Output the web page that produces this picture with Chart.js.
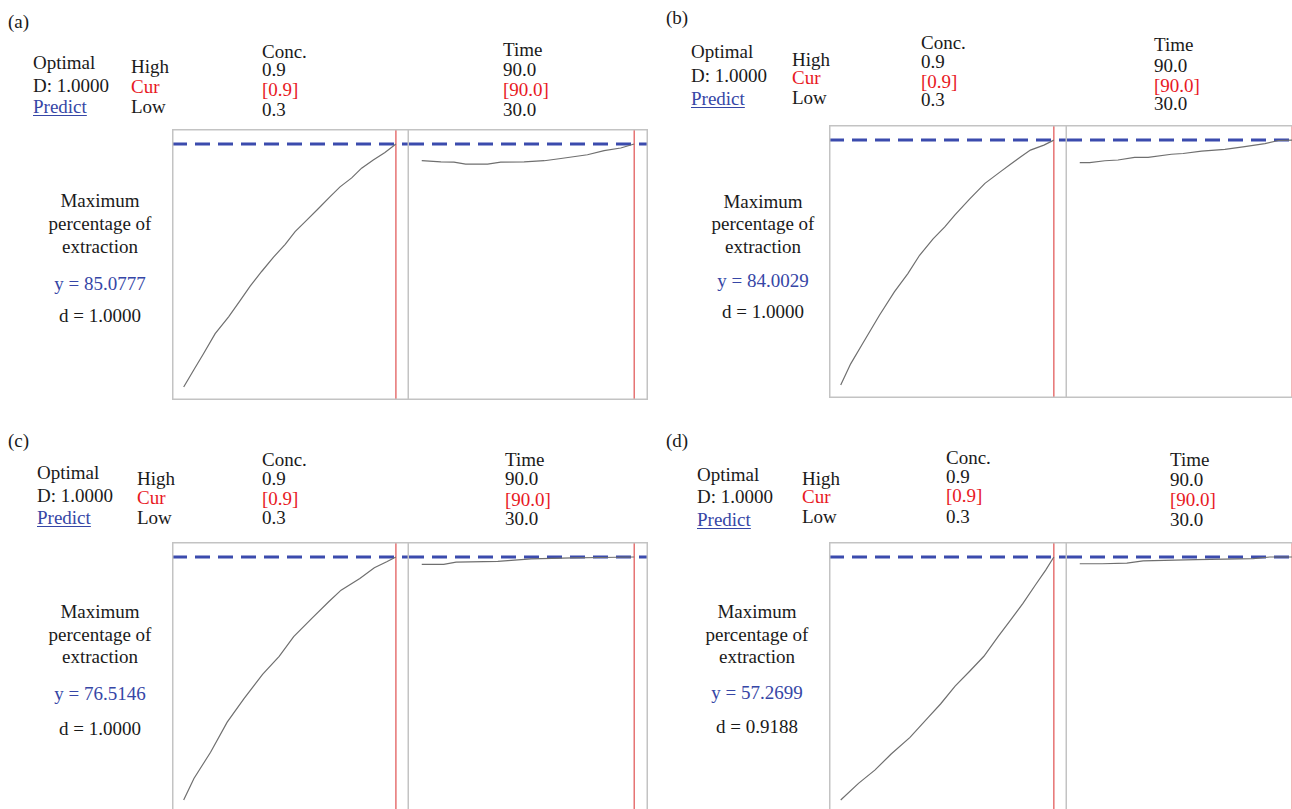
<!DOCTYPE html>
<html>
<head>
<meta charset="utf-8">
<script src="https://cdn.jsdelivr.net/npm/chart.js@4.4.1/dist/chart.umd.min.js"></script>
<style>
  html, body { margin: 0; padding: 0; background: #fff; }
  #root { position: relative; width: 1292px; height: 809px; overflow: hidden; background: #fff;
          font-family: "Liberation Serif", "DejaVu Serif", serif; color: #1a1a1a; }
  .t { position: absolute; font-size: 19px; line-height: 22px; white-space: nowrap; }
  .c { transform: translateX(-50%); text-align: center; }
  .red { color: #e8191f; }
  .blue { color: #3646a6; }
  .u { text-decoration: underline; text-underline-offset: 2px; }
  canvas { position: absolute; }
</style>
</head>
<body>
<div id="root"></div>
<script>
// ---------------- DATA ----------------
const panelLabels = ["(a)", "(b)", "(c)", "(d)"];
const factorNames = ["Conc.", "Time"];
const highValues = ["0.9", "90.0"];
const curValues = ["[0.9]", "[90.0]"];
const lowValues = ["0.3", "30.0"];
const curConc = 0.9;
const curTime = 90.0;
const predictedY = [85.0777, 84.0029, 76.5146, 57.2699];
const desirability = ["1.0000", "1.0000", "1.0000", "0.9188"];
const overallD = ["1.0000", "1.0000", "1.0000", "1.0000"];

// (a)
const concA = [0.300,0.328,0.356,0.389,0.427,0.460,0.488,0.521,0.554,0.587,0.615,0.648,0.681,0.714,0.742,0.775,0.803,0.836,0.869,0.900];
const yConcA = [20.0,24.5,28.9,34.3,38.8,43.2,47.0,51.0,54.8,58.2,61.6,64.7,67.8,71.0,73.6,76.0,78.6,80.8,82.8,85.08];
const timeA = [30.0,35.4,39.1,42.4,48.6,52.3,58.9,64.6,69.3,76.8,81.5,86.2,90.0];
const yTimeA = [80.6,80.3,80.2,79.7,79.7,80.2,80.3,80.6,81.2,82.2,83.3,84.0,85.08];
// (b)
const concB = [0.300,0.328,0.361,0.409,0.451,0.489,0.522,0.560,0.593,0.621,0.664,0.706,0.749,0.777,0.806,0.834,0.872,0.900];
const yConcB = [20.0,25.5,30.7,38.2,44.3,49.1,53.9,58.2,61.3,64.4,68.7,72.7,75.7,77.6,79.6,81.4,82.7,84.0];
const timeB = [30.0,32.8,37.1,40.8,45.5,49.3,55.9,59.2,64.4,71.0,76.6,82.3,86.1,90.0];
const yTimeB = [78.1,78.1,78.6,78.8,79.5,79.5,80.3,80.5,81.1,81.6,82.3,83.1,83.9,84.0];
// (c)
const concC = [0.300,0.329,0.376,0.423,0.470,0.523,0.570,0.611,0.663,0.710,0.745,0.798,0.839,0.874,0.900];
const yConcC = [20.0,25.0,31.1,38.1,43.5,49.2,53.4,58.0,62.3,66.1,68.8,71.5,74.0,75.4,76.51];
const timeC = [30.0,36.2,39.7,51.5,60.9,72.6,80.8,90.0];
const yTimeC = [74.8,74.8,75.3,75.5,76.1,76.3,76.4,76.51];
// (d)
const concD = [0.300,0.350,0.396,0.442,0.495,0.547,0.581,0.622,0.663,0.703,0.744,0.778,0.813,0.848,0.877,0.900];
const yConcD = [15.0,17.9,20.2,23.0,25.9,29.4,31.7,34.8,37.4,40.0,43.5,46.3,49.2,52.4,55.0,57.27];
const timeD = [30.0,36.3,43.3,47.9,62.9,79.0,83.7,90.0];
const yTimeD = [56.1,56.1,56.2,56.6,56.8,57.0,57.27,57.27];

const concSeries = [[concA, yConcA],[concB, yConcB],[concC, yConcC],[concD, yConcD]];
const timeSeries = [[timeA, yTimeA],[timeB, yTimeB],[timeC, yTimeC],[timeD, yTimeD]];

// ---------------- LAYOUT ----------------
const root = document.getElementById('root');
function txt(s, x, yc, cls) {
  const d = document.createElement('div');
  d.className = 't ' + (cls || '');
  d.textContent = s;
  d.style.left = x + 'px';
  d.style.top = (yc - 11) + 'px';
  root.appendChild(d);
  return d;
}

const layout = [
  { lab:[8,22], opt:[33,63,86,107], hl:[131,67,87,107], conc:[262,52,70,90,110], time:[503,50,70,90,110],
    side:[100,201,224,247,284,316], box:{x:172,y:129,h:271,w1:237,w2:239} },
  { lab:[666,18], opt:[691,52,76,99], hl:[792,60,78,98], conc:[921,43,62,82,100], time:[1154,45,66,86,104],
    side:[763,202,224,247,281,312], box:{x:829,y:125,h:273,w1:238,w2:239} },
  { lab:[8,441], opt:[37,473,496,518], hl:[137,479,498,518], conc:[262,460,479,499,518], time:[505,460,479,500,519],
    side:[100,612,635,657,694,729], box:{x:172,y:542,h:271,w1:237,w2:239} },
  { lab:[666,441], opt:[697,475,497,520], hl:[802,479,497,517], conc:[946,458,477,496,517], time:[1170,460,480,500,520],
    side:[757,612,635,657,693,727], box:{x:829,y:542,h:271,w1:238,w2:239} }
];

const concRange = [0.267, 0.937];
const timeRange = [26.4, 93.9];

const boxPlugin = {
  id: 'boxBorder',
  afterDraw(chart, args, opts) {
    const c = chart.ctx;
    const w = chart.width, h = chart.height;
    c.save();
    c.strokeStyle = '#c3c3c3';
    c.lineWidth = 1.5;
    c.beginPath();
    if (opts.skipLeft) {
      c.moveTo(0, 0.75); c.lineTo(w - 0.75, 0.75); c.lineTo(w - 0.75, h - 0.75); c.lineTo(0, h - 0.75);
    } else {
      c.rect(0.75, 0.75, w - 1.5, h - 1.5);
    }
    c.stroke();
    c.restore();
  }
};

function makeChart(x, y, w, h, xs, ys, xr, yr, pred, cur, skipLeft) {
  const cv = document.createElement('canvas');
  cv.width = w; cv.height = h;
  cv.style.left = x + 'px'; cv.style.top = y + 'px';
  cv.style.width = w + 'px'; cv.style.height = h + 'px';
  root.appendChild(cv);
  new Chart(cv, {
    type: 'scatter',
    data: {
      datasets: [
        { data: xs.map((v, i) => ({x: v, y: ys[i]})), showLine: true, borderColor: '#6f6f6f',
          borderWidth: 1.2, pointRadius: 0, tension: 0 },
        { data: [{x: cur, y: yr[0]}, {x: cur, y: yr[1]}], showLine: true, borderColor: '#e05050',
          borderWidth: 1.2, pointRadius: 0 },
        { data: [{x: xr[0], y: pred}, {x: xr[1], y: pred}], showLine: true, borderColor: '#3b4bad',
          borderWidth: 3, borderDash: [15, 8], pointRadius: 0 }
      ]
    },
    options: {
      responsive: false, animation: false, devicePixelRatio: 1,
      layout: { padding: 0 },
      plugins: { legend: { display: false }, tooltip: { enabled: false }, boxBorder: { skipLeft: !!skipLeft } },
      scales: {
        x: { type: 'linear', min: xr[0], max: xr[1], display: false },
        y: { type: 'linear', min: yr[0], max: yr[1], display: false }
      }
    },
    plugins: [boxPlugin]
  });
}

layout.forEach((L, p) => {
  txt(panelLabels[p], L.lab[0], L.lab[1]);
  txt('Optimal', L.opt[0], L.opt[1]);
  txt('D: ' + overallD[p], L.opt[0], L.opt[2]);
  txt('Predict', L.opt[0], L.opt[3], 'blue u');
  txt('High', L.hl[0], L.hl[1]);
  txt('Cur', L.hl[0], L.hl[2], 'red');
  txt('Low', L.hl[0], L.hl[3]);
  [L.conc, L.time].forEach((F, k) => {
    txt(factorNames[k], F[0], F[1]);
    txt(highValues[k], F[0], F[2]);
    txt(curValues[k], F[0], F[3], 'red');
    txt(lowValues[k], F[0], F[4]);
  });
  const S = L.side;
  txt('Maximum', S[0], S[1], 'c');
  txt('percentage of', S[0], S[2], 'c');
  txt('extraction', S[0], S[3], 'c');
  txt('y = ' + predictedY[p].toFixed(4), S[0], S[4], 'c blue');
  txt('d = ' + desirability[p], S[0], S[5], 'c');

  const top = predictedY[p];
  const bottom = Math.min(...concSeries[p][1]);
  const span = top - bottom;
  const yr = [bottom - span * 13 / 243, top + span * 15 / 243];
  const B = L.box;
  makeChart(B.x, B.y, B.w1, B.h, concSeries[p][0], concSeries[p][1], concRange, yr, top, curConc, false);
  makeChart(B.x + B.w1, B.y, B.w2, B.h, timeSeries[p][0], timeSeries[p][1], timeRange, yr, top, curTime, true);
});
</script>
</body>
</html>
